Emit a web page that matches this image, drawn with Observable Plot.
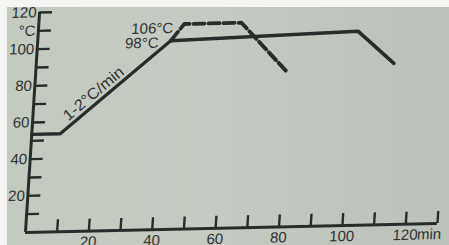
<!DOCTYPE html>
<html>
<head>
<meta charset="utf-8">
<script src="https://cdn.jsdelivr.net/npm/d3@7"></script>
<script src="https://cdn.jsdelivr.net/npm/@observablehq/plot@0.6"></script>
<style>
  html, body { margin: 0; padding: 0; background: #f4f5f2; width: 449px; height: 245px; overflow: hidden; }
  #paper {
    position: absolute; left: 7px; top: 7px; width: 442px; height: 238px;
    background: linear-gradient(90deg, #c3cac0 0%, #c5cbc2 45%, #bcc1bb 100%);
    overflow: hidden;
  }
  #paper svg {
    position: absolute; left: 0; top: 0;
    transform-origin: 18px 225px;
    transform: matrix(1, -0.0218, -0.064, 1, 0, 0);
  }
</style>
</head>
<body>
<div id="paper"></div>
<script>
// ---- data ----
const solidTime = [0, 9, 42, 101, 113];          // minutes
const solidTemp = [53.5, 53.5, 103, 106, 88];     // °C
const dashedTime = [42, 46, 64, 79];
const dashedTemp = [103, 112, 112, 85.3];

const xTickValues = [10, 20, 30, 40, 50, 60, 70, 80, 90, 100, 110, 120, 130];
const xLabelValues = [20, 40, 60, 80, 100, 120];
const xUnit = "min";
const yTickValues = [10, 20, 30, 40, 50, 60, 70, 80, 90, 100, 110, 120];
const yLabelValues = [20, 40, 60, 80, 100, 120];
const yUnit = "°C";
const yUnitAt = 110;

const noteLabels = ["98°C", "106°C", "1-2°C/min"];
const noteTime = [42, 46, 20.7];
const noteTemp = [103, 112, 71];

// ---- build tables ----
const solid = solidTime.map((t, i) => ({t, temp: solidTemp[i]}));
const dashed = dashedTime.map((t, i) => ({t, temp: dashedTemp[i]}));
const notes = noteLabels.map((label, i) => ({label, t: noteTime[i], temp: noteTemp[i]}));

const ink = "#292c2a";
const textInk = "#303331";

const chart = Plot.plot({
  width: 442,
  height: 238,
  marginLeft: 18,
  marginRight: 12,
  marginTop: 5,
  marginBottom: 13,
  style: {background: "transparent", fontFamily: "'Liberation Sans', Arial, sans-serif", color: textInk, overflow: "visible"},
  x: {domain: [0, 130], label: null},
  y: {domain: [0, 120], label: null},
  marks: [
    Plot.axisX({
      ticks: xTickValues, tickSize: -12, tickPadding: 17, label: null,
      stroke: ink, strokeWidth: 2.4, fontSize: 15, fill: textInk,
      tickFormat: d => xLabelValues.includes(d) ? String(d) : ""
    }),
    Plot.axisY({
      ticks: yTickValues, tickSize: -13, tickPadding: 16, label: null,
      stroke: ink, strokeWidth: 2.4, fontSize: 15, fill: textInk,
      tickFormat: d => d === yUnitAt ? yUnit : (yLabelValues.includes(d) ? String(d) : "")
    }),
    Plot.text([xUnit], {x: xLabelValues[xLabelValues.length - 1], y: 0, text: d => d,
      dx: 12, dy: 5, textAnchor: "start", lineAnchor: "top", fontSize: 15, fill: textInk}),
    Plot.ruleY([0], {stroke: ink, strokeWidth: 3}),
    Plot.ruleX([0], {stroke: ink, strokeWidth: 3}),
    Plot.line(dashed, {x: "t", y: "temp", stroke: ink, strokeWidth: 3.8, strokeDasharray: "11,4"}),
    Plot.line(solid, {x: "t", y: "temp", stroke: ink, strokeWidth: 3.4, strokeLinejoin: "miter"}),
    Plot.text(notes.slice(0, 1), {x: "t", y: "temp", text: "label", dx: -12, dy: 2, textAnchor: "end", fontSize: 15, fill: textInk}),
    Plot.text(notes.slice(1, 2), {x: "t", y: "temp", text: "label", dx: -11, dy: 4, textAnchor: "end", fontSize: 15, fill: textInk}),
    Plot.text(notes.slice(2, 3), {x: "t", y: "temp", text: "label", dx: -6.4, dy: -7.4, rotate: -41, fontSize: 16, fill: textInk})
  ]
});
document.getElementById("paper").appendChild(chart);
</script>
</body>
</html>
